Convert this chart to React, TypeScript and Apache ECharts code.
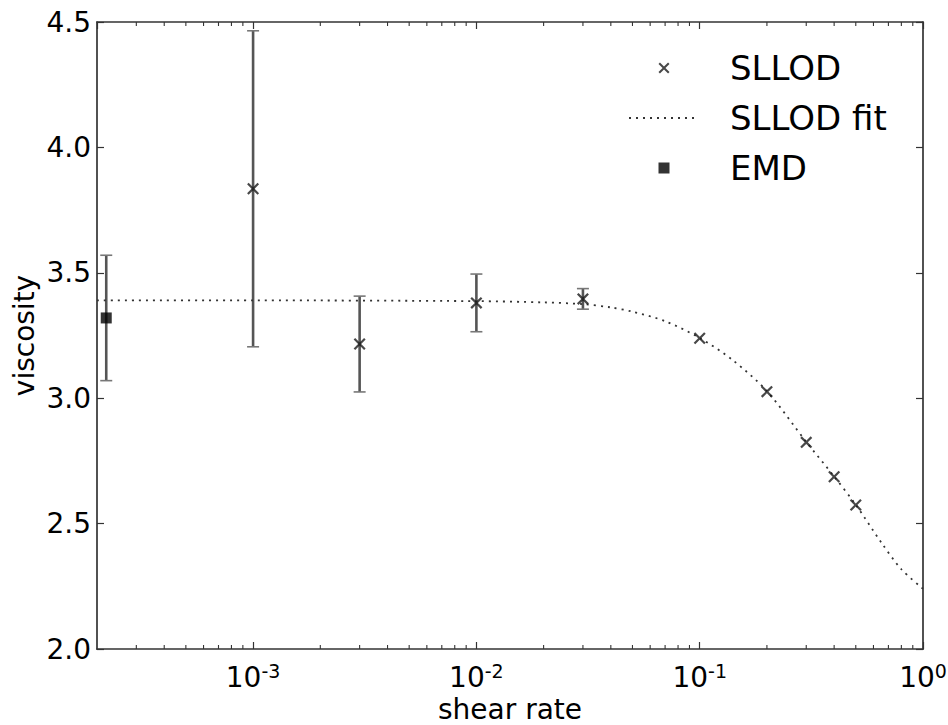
import React, { useEffect, useRef } from "react";
import * as echarts from "echarts";

// SLLOD simulation results (shear rate, viscosity, half-width of error bar)
const sllodRate = [0.001, 0.003, 0.01, 0.03, 0.1, 0.2, 0.3, 0.4, 0.5];
const sllodVisc = [3.835, 3.216, 3.38, 3.396, 3.239, 3.026, 2.824, 2.687, 2.574];
const sllodErr = [0.63, 0.191, 0.115, 0.041, 0, 0, 0, 0, 0];

// Fitted SLLOD curve
const fitRate = [2e-4, 1e-3, 1e-2, 0.02, 0.03, 0.04, 0.05, 0.07, 0.1, 0.14, 0.2, 0.3, 0.4, 0.5, 0.65, 0.8, 1.0];
const fitVisc = [3.39, 3.39, 3.387, 3.382, 3.375, 3.362, 3.345, 3.307, 3.24, 3.153, 3.028, 2.826, 2.688, 2.575, 2.425, 2.318, 2.24];

// Equilibrium MD estimate
const emdRate = [2.2e-4];
const emdVisc = [3.32];
const emdErr = [0.25];

// Axis ranges and tick values
const xRange = [2e-4, 1];
const yRange = [2.0, 4.5];
const yStep = 0.5;
const minorMultipliers = [2, 3, 4, 5, 6, 7, 8, 9];
const minorDecades = [1e-4, 1e-3, 1e-2, 1e-1];

const FONT = "DejaVu Sans";
const X_PATH = "path://M0,1.3 L1.3,0 L5,3.7 L8.7,0 L10,1.3 L6.3,5 L10,8.7 L8.7,10 L5,6.3 L1.3,10 L0,8.7 L3.7,5 Z";
const SQ_PATH = "path://M0,0 L10,0 L10,10 L0,10 Z";

export default function App() {
  const ref = useRef<HTMLDivElement>(null);

  useEffect(() => {
    if (!ref.current) return;
    const chart = echarts.init(ref.current, undefined, { renderer: "svg" });

    const minorTicks: number[][] = [];
    minorDecades.forEach((d) =>
      minorMultipliers.forEach((m) => {
        const v = d * m;
        if (v > xRange[0] && v < xRange[1]) minorTicks.push([v, yRange[0], yRange[1]]);
      })
    );

    const errData = [
      ...sllodRate
        .map((r, i) => [r, sllodVisc[i] - sllodErr[i], sllodVisc[i] + sllodErr[i]])
        .filter((_, i) => sllodErr[i] > 0),
      ...emdRate.map((r, i) => [r, emdVisc[i] - emdErr[i], emdVisc[i] + emdErr[i]]),
    ];

    const axisLine = { show: true, lineStyle: { color: "#333", width: 1.7 } };
    const tick = { show: true, inside: true, length: 7, lineStyle: { color: "#333", width: 1.2 } };

    const isDecade = (v: number) => {
      const l = Math.log10(v);
      return Math.abs(l - Math.round(l)) < 1e-6;
    };

    chart.setOption({
      animation: false,
      backgroundColor: "#fff",
      grid: { left: 97, right: 25, top: 22, bottom: 76, outerBoundsMode: "none", containLabel: false },
      legend: {
        left: 628,
        top: 50,
        orient: "vertical",
        padding: 0,
        itemWidth: 70,
        itemHeight: 11,
        itemGap: 14,
        data: [
          { name: "SLLOD" },
          { name: "SLLOD fit", itemStyle: { opacity: 0 } },
          { name: "EMD" },
        ],
        textStyle: {
          fontFamily: FONT,
          fontSize: 34,
          color: "#000",
          lineHeight: 36,
          padding: [0, 0, 0, 26],
        },
      },
      xAxis: [
        {
          type: "log",
          logBase: 10,
          min: xRange[0],
          max: xRange[1],
          name: "shear rate",
          nameLocation: "middle",
          nameGap: 46,
          nameMoveOverlap: false,
          nameTextStyle: { fontFamily: FONT, fontSize: 28, color: "#000", lineHeight: 28 },
          axisLine,
          axisTick: tick,
          splitLine: { show: false },
          axisLabel: {
            margin: 12,
            showMinLabel: false,
            formatter: (v: number) =>
              isDecade(v) ? `{b|10}{s|${Math.round(Math.log10(v))}}` : "",
            rich: {
              b: { fontFamily: FONT, fontSize: 28, color: "#000", lineHeight: 33 },
              s: { fontFamily: FONT, fontSize: 19, color: "#000", lineHeight: 12, verticalAlign: "top" },
            },
          },
        },
        {
          type: "log",
          logBase: 10,
          min: xRange[0],
          max: xRange[1],
          position: "top",
          axisLine,
          axisTick: tick,
          axisLabel: { show: false },
          splitLine: { show: false },
        },
      ],
      yAxis: [
        {
          type: "value",
          min: yRange[0],
          max: yRange[1],
          interval: yStep,
          name: "viscosity",
          nameLocation: "middle",
          nameGap: 59,
          nameMoveOverlap: false,
          nameTextStyle: { fontFamily: FONT, fontSize: 28, color: "#000" },
          axisLine,
          axisTick: tick,
          splitLine: { show: false },
          axisLabel: {
            margin: 6,
            fontFamily: FONT,
            fontSize: 28,
            color: "#000",
            formatter: (v: number) => v.toFixed(1),
          },
        },
        {
          type: "value",
          min: yRange[0],
          max: yRange[1],
          interval: yStep,
          position: "right",
          axisLine,
          axisTick: tick,
          axisLabel: { show: false },
          splitLine: { show: false },
        },
      ],
      series: [
        {
          name: "minor ticks",
          type: "custom",
          silent: true,
          clip: false,
          data: minorTicks,
          encode: { x: 0, y: [1, 2] },
          renderItem: (_p: any, api: any) => {
            const v = api.value(0);
            const b = api.coord([v, yRange[0]]);
            const t = api.coord([v, yRange[1]]);
            const st = { stroke: "#333", lineWidth: 1.1 };
            return {
              type: "group",
              children: [
                { type: "line", shape: { x1: b[0], y1: b[1], x2: b[0], y2: b[1] - 4 }, style: st },
                { type: "line", shape: { x1: t[0], y1: t[1], x2: t[0], y2: t[1] + 4 }, style: st },
              ],
            };
          },
        },
        {
          name: "error bars",
          type: "custom",
          silent: true,
          data: errData,
          encode: { x: 0, y: [1, 2] },
          z: 2,
          renderItem: (_p: any, api: any) => {
            const x = api.value(0);
            const lo = api.coord([x, api.value(1)]);
            const hi = api.coord([x, api.value(2)]);
            const cap = 6;
            const capStyle = { stroke: "#777", lineWidth: 1.6 };
            return {
              type: "group",
              children: [
                {
                  type: "line",
                  shape: { x1: lo[0], y1: lo[1], x2: hi[0], y2: hi[1] },
                  style: { stroke: "#555", lineWidth: 2.6 },
                },
                { type: "line", shape: { x1: lo[0] - cap, y1: lo[1], x2: lo[0] + cap, y2: lo[1] }, style: capStyle },
                { type: "line", shape: { x1: hi[0] - cap, y1: hi[1], x2: hi[0] + cap, y2: hi[1] }, style: capStyle },
              ],
            };
          },
        },
        {
          name: "SLLOD fit",
          type: "line",
          data: fitRate.map((r, i) => [r, fitVisc[i]]),
          smooth: 0.3,
          showSymbol: false,
          symbol: "none",
          z: 3,
          lineStyle: { color: "#333", width: 1.8, type: [2, 5] },
          itemStyle: { color: "rgba(0,0,0,0)", borderWidth: 0 },
        },
        {
          name: "SLLOD",
          type: "scatter",
          symbol: X_PATH,
          symbolSize: 12,
          z: 4,
          data: sllodRate.map((r, i) => [r, sllodVisc[i]]),
          itemStyle: { color: "#1a1a1a" },
        },
        {
          name: "EMD",
          type: "scatter",
          symbol: SQ_PATH,
          symbolSize: 11,
          z: 4,
          data: emdRate.map((r, i) => [r, emdVisc[i]]),
          itemStyle: { color: "#000" },
        },
      ],
    });

    return () => chart.dispose();
  }, []);

  return (
    <div
      ref={ref}
      style={{ position: "fixed", left: 0, top: 0, width: 948, height: 725, background: "#fff" }}
    />
  );
}
